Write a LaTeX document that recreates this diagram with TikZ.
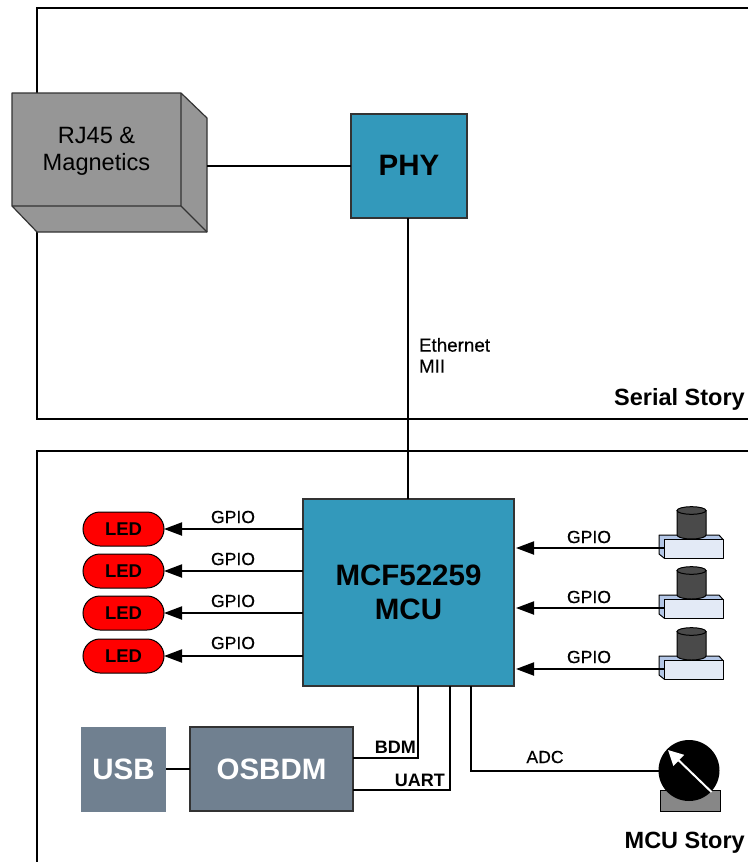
\documentclass[tikz,border=0pt]{standalone}
\usepackage{fontspec}
\setmainfont{Liberation Sans}
\newfontfamily\medfont[FakeBold=0.35]{Liberation Sans}
\usetikzlibrary{arrows.meta,shapes.misc}
\definecolor{teal}{HTML}{3399BB}
\definecolor{slate}{HTML}{708090}
\definecolor{boxgray}{HTML}{969696}
\definecolor{edge}{HTML}{333333}
\tikzset{
  x=1pt,y=-1pt,
  line/.style={line width=2pt,black},
  tip/.style={-{Triangle[length=18pt,width=13pt]}},
  block/.style={draw=edge,line width=1.2pt,fill=teal,inner sep=0pt,outer sep=0pt,align=center},
  ledbox/.style={rounded rectangle,draw=black,line width=1pt,fill=red,minimum width=81pt,minimum height=34pt,inner sep=0pt,outer sep=0pt,font=\fontsize{18.5}{20}\selectfont\bfseries},
  lab/.style={inner sep=0pt,font=\fontsize{17.6}{20}\selectfont\medfont},
  blab/.style={inner sep=0pt,font=\fontsize{18}{20}\selectfont\bfseries},
  story/.style={inner sep=0pt,anchor=east,font=\fontsize{23.5}{26}\selectfont\bfseries},
  pad/.style={inner sep=0pt,outer sep=0pt,minimum size=0pt}
}
\definecolor{btnfront}{HTML}{E3EAF6}
\definecolor{btnside}{HTML}{B4C7E7}
\definecolor{btncyl}{HTML}{4A4A4A}
\newcommand{\pushbtn}[2]{%
  \begin{scope}[shift={(0,#1)}]
    \fill[btnside,draw=black,line width=1pt,line join=round] (659,535)--(719,535)--(723,539.5)--(723,558)--(664,558)--(659,554)--cycle;
    \fill[btnfront,draw=black,line width=1pt,line join=round] (664,539.5)--(723,539.5)--(723,558)--(664,558)--cycle;
    \fill[btncyl,draw=black,line width=1pt] (677,510.5)--(677,535) arc[x radius=14.5,y radius=-4,start angle=180,end angle=360]--(706,510.5)--cycle;
    \fill[btncyl,draw=black,line width=1pt] (691.5,510.5) ellipse[x radius=14.5,y radius=3.8];
    \node[pad] (#2) at (664,548) {};
  \end{scope}}
\begin{document}
\begin{tikzpicture}
\useasboundingbox (0,0) rectangle (748,862);
\fill[white] (0,0) rectangle (748,862);
% story frames
\coordinate (fa) at (748,8);
\coordinate (fb) at (37,8);
\coordinate (fc) at (37,419);
\coordinate (fd) at (748,419);
\coordinate (ga) at (748,451);
\coordinate (gb) at (37,451);
\coordinate (gc) at (37,862);
\draw[line] (fa)--(fb)--(fc)--(fd);
\draw[line] (ga)--(gb)--(gc);
% RJ45
\fill[boxgray,draw=edge,line width=1.2pt,line join=round] (12,93)--(181,93)--(207,118)--(207,232)--(37,232)--(12,206)--cycle;
\draw[edge,line width=1.2pt,line join=round] (181,93)--(181,206)--(12,206) (181,206)--(207,232);
\node[pad,align=center,font=\fontsize{23.6}{27}\selectfont] (rj) at (96.5,151) {RJ45 \&\\Magnetics};
\node[pad] (rjport) at (207,166) {};
% PHY
\node[block,minimum width=116pt,minimum height=104pt,font=\fontsize{29.5}{32}\selectfont\bfseries] (phy) at (409,166) {\raisebox{2pt}{PHY}};
\node[block,minimum width=211pt,minimum height=187pt,font=\fontsize{29.5}{34}\selectfont\bfseries] (mcu) at (408.5,592.5) {MCF52259\\MCU};
\draw[line] (rjport)--(phy.west);
\node[pad] (mcutop) at (408,499) {};
\node[pad] (phybot) at (408,218) {};
\draw[line] (phybot)--(mcutop);
\node[pad,align=left,anchor=north west,font=\fontsize{18.8}{21}\selectfont\medfont] (eth) at (419,338) {Ethernet\\MII};
\node[story] (ss) at (745,399) {Serial Story};
\node[story] (ms) at (745,843) {MCU Story};
% LEDs
\foreach \n/\y/\t in {1/529/517,2/571/559,3/613/601,4/656/643}{
  \node[ledbox] (led\n) at (123.5,\y) {LED};
  \node[pad] (mo\n) at (303,\y) {};
  \draw[line,tip] (mo\n)--(led\n.east);
  \node[lab] (gl\n) at (233,\t) {GPIO};
}
% buttons
\pushbtn{0}{b1}
\pushbtn{60}{b2}
\pushbtn{121}{b3}
\foreach \n/\y/\t in {1/548/537,2/608/597,3/669/657}{
  \node[pad] (mi\n) at (516,\y) {};
  \draw[line,tip] (b\n)--(mi\n);
  \node[lab] (gr\n) at (589,\t) {GPIO};
}
% USB, OSBDM
\node[draw=none,fill=slate,minimum width=85pt,minimum height=85pt,inner sep=0pt,outer sep=0pt,text=white,font=\fontsize{29.5}{32}\selectfont\bfseries] (usb) at (123.5,769) {USB};
\node[draw=edge,line width=1.2pt,fill=slate,minimum width=163pt,minimum height=84pt,inner sep=0pt,outer sep=0pt,text=white,font=\fontsize{29.5}{32}\selectfont\bfseries] (osbdm) at (271.5,769) {OSBDM};
\draw[line] (usb.east)--(osbdm.west);
\coordinate (bdmo) at (353,758);
\coordinate (bdmc) at (418,758);
\coordinate (bdmm) at (418,686);
\coordinate (uo) at (353,790);
\coordinate (uc) at (450,790);
\coordinate (um) at (450,686);
\coordinate (am) at (471,686);
\coordinate (ac) at (471,770.5);
\draw[line] (bdmo)--(bdmc)--(bdmm);
\draw[line] (uo)--(uc)--(um);
\node[blab,anchor=east] (bdml) at (416,747) {BDM};
\node[blab,anchor=east] (ual) at (445,780) {UART};
% gauge
\fill[boxgray!90!black,draw=black,line width=1pt] (660,790) rectangle (720,811);
\node[circle,fill=black,minimum size=61pt,inner sep=0pt,outer sep=0pt] (gauge) at (689,770.5) {};
\draw[line] (am)--(ac)--(gauge.west);
\node[lab] (adc) at (545,757) {ADC};
\coordinate (nb) at (711.5,792);
\coordinate (nt) at (668,750);
\draw[white,line width=2pt,-{Triangle[length=15pt,width=15pt]}] (nb)--(nt);
\end{tikzpicture}
\end{document}
